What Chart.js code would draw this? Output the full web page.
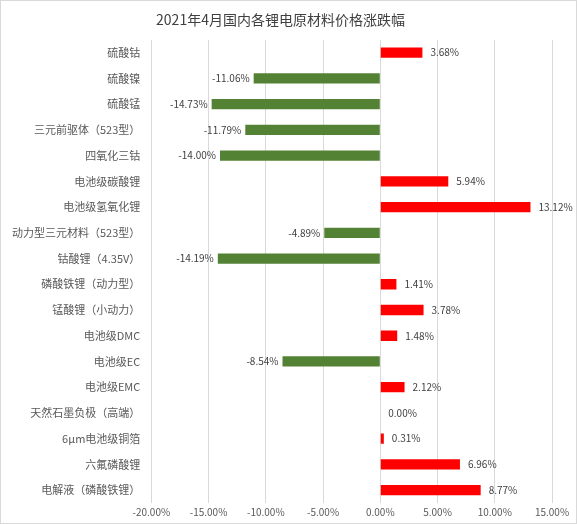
<!DOCTYPE html>
<html><head><meta charset="utf-8">
<script src="https://cdn.jsdelivr.net/npm/chart.js@4"></script>
<style>
body{margin:0;background:#fff}
#wrap{position:absolute;left:0;top:0;width:575px;height:522px;border:1px solid #d9d9d9}
</style></head>
<body><div id="wrap"><canvas id="c"></canvas></div>
<script>
const categories = ['硫酸钴','硫酸镍','硫酸锰','三元前驱体（523型）','四氧化三钴','电池级碳酸锂','电池级氢氧化锂','动力型三元材料（523型）','钴酸锂（4.35V）','磷酸铁锂（动力型）','锰酸锂（小动力）','电池级DMC','电池级EC','电池级EMC','天然石墨负极（高端）','6μm电池级铜箔','六氟磷酸锂','电解液（磷酸铁锂）'];
const changes = [3.68,-11.06,-14.73,-11.79,-14.00,5.94,13.12,-4.89,-14.19,1.41,3.78,1.48,-8.54,2.12,0.00,0.31,6.96,8.77];
const xTicks = [-20,-15,-10,-5,0,5,10,15];

const font = '"Noto Sans CJK SC", sans-serif';
const valueLabels = {
  id: 'valueLabels',
  afterDatasetsDraw(chart) {
    const ctx = chart.ctx;
    const meta = chart.getDatasetMeta(0);
    ctx.save();
    ctx.font = '10px ' + font;
    ctx.fillStyle = '#404040';
    ctx.textBaseline = 'middle';
    meta.data.forEach((bar, i) => {
      const v = changes[i];
      const txt = v.toFixed(2) + '%';
      if (v >= 0) { ctx.textAlign = 'left'; ctx.fillText(txt, bar.x + 8, bar.y); }
      else { ctx.textAlign = 'right'; ctx.fillText(txt, bar.x - 4, bar.y); }
    });
    ctx.restore();
  }
};

new Chart(document.getElementById('c'), {
  type: 'bar',
  data: {
    labels: categories,
    datasets: [{
      data: changes,
      backgroundColor: changes.map(v => v >= 0 ? '#ff0000' : '#548235'),
      barPercentage: 0.4,
      categoryPercentage: 1
    }]
  },
  options: {
    indexAxis: 'y',
    responsive: true,
    maintainAspectRatio: false,
    animation: false,
    layout: { padding: { left: 8, right: 24, top: 4, bottom: 2 } },
    plugins: {
      legend: { display: false },
      tooltip: { enabled: false },
      title: { display: true, text: '2021年4月国内各锂电原材料价格涨跌幅', color: '#404040',
        font: { family: font, size: 14, weight: 'normal' }, padding: { top: 6, bottom: 12 } }
    },
    scales: {
      x: {
        min: -20, max: 15,
        afterBuildTicks: s => { s.ticks = xTicks.map(v => ({ value: v })); },
        ticks: { callback: v => v.toFixed(2) + '%', color: '#595959', font: { family: font, size: 10 } },
        grid: { color: '#d9d9d9', drawTicks: false },
        border: { display: false }
      },
      y: {
        ticks: { color: '#595959', font: { family: font, size: 11 }, autoSkip: false },
        grid: { display: false },
        border: { display: false }
      }
    }
  },
  plugins: [valueLabels]
});
</script></body></html>
